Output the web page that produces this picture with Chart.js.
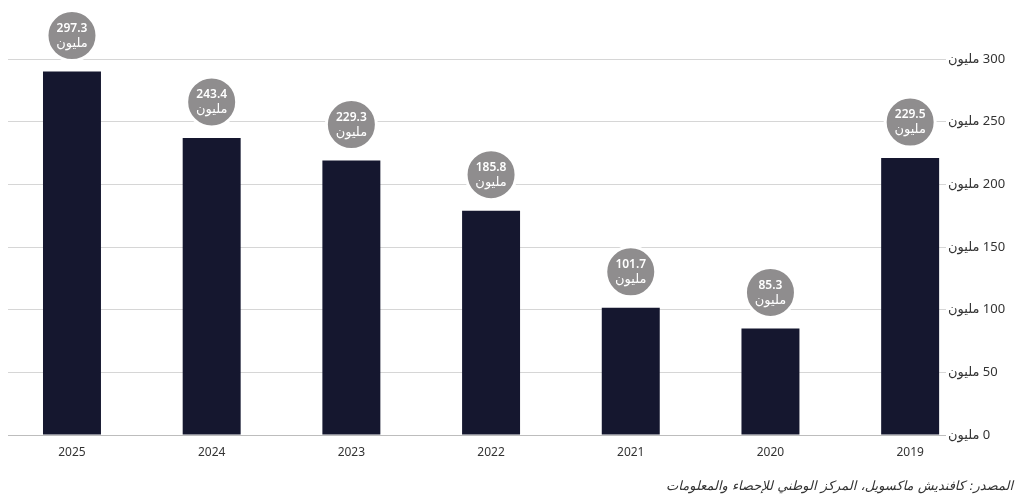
<!DOCTYPE html>
<html lang="ar">
<head>
<meta charset="utf-8">
<script src="https://cdn.jsdelivr.net/npm/chart.js@4.4.1/dist/chart.umd.min.js"></script>
<style>
  body { margin: 0; background: #fff; }
  #wrap { position: relative; width: 1024px; height: 504px; }
  #source {
    position: absolute; right: 11px; top: 478px;
    font-family: 'DejaVu Sans', 'Noto Sans', sans-serif; font-size: 13px;
    font-style: italic; color: #333; direction: rtl;
  }
</style>
</head>
<body>
<div id="wrap">
  <canvas id="chart"></canvas>
  <div id="source">المصدر: كافنديش ماكسويل، المركز الوطني للإحصاء والمعلومات</div>
</div>
<script>
// years run right-to-left in the original, so keep them in screen order
const years = ['2025', '2024', '2023', '2022', '2021', '2020', '2019'];
// bar heights as drawn in the picture (millions)
const barValues = [290, 237, 219, 179, 101.5, 85, 221];
// labels printed in the bubbles
const bubbleLabels = ['297.3', '243.4', '229.3', '185.8', '101.7', '85.3', '229.5'];
const unitWord = 'مليون';
const yTicks = [0, 50, 100, 150, 200, 250, 300];

const barColor = '#15172f';
const bubbleColor = '#8f8d8e';
const textColor = '#333333';

// draws the grey value bubbles above each bar
const bubblePlugin = {
    id: 'bubbles',
    afterDatasetsDraw(chart) {
        const ctx = chart.ctx;
        const meta = chart.getDatasetMeta(0);
        meta.data.forEach((bar, i) => {
            const cx = bar.x;
            const cy = bar.y - 36;
            ctx.save();
            ctx.beginPath();
            ctx.arc(cx, cy, 25, 0, Math.PI * 2);
            ctx.fillStyle = bubbleColor;
            ctx.fill();
            ctx.lineWidth = 3;
            ctx.strokeStyle = '#ffffff';
            ctx.stroke();
            ctx.fillStyle = '#ffffff';
            ctx.textAlign = 'center';
            ctx.textBaseline = 'middle';
            ctx.font = "600 12px 'Noto Sans', sans-serif";
            ctx.fillText(bubbleLabels[i], cx, cy - 7);
            ctx.font = "13px 'DejaVu Sans', sans-serif";
            ctx.fillText(unitWord, cx, cy + 8);
            ctx.restore();
        });
    }
};

new Chart(document.getElementById('chart'), {
    type: 'bar',
    data: {
        datasets: [{
            data: barValues.map((v, i) => ({ x: i, y: v })),
            backgroundColor: barColor,
            borderWidth: 0,
            barPercentage: 1,
            categoryPercentage: 0.415
        }]
    },
    options: {
        responsive: true,
        maintainAspectRatio: false,
        animation: false,
        layout: { padding: { left: 8, top: 59, right: 0, bottom: 0 } },
        plugins: {
            legend: { display: false },
            tooltip: { enabled: false }
        },
        scales: {
            x: {
                type: 'linear',
                offset: false,
                min: -0.458,
                max: 6.228,
                grid: { display: false, drawTicks: false, offset: false },
                border: { display: false },
                afterBuildTicks: (axis) => {
                    axis.ticks = years.map((_, i) => ({ value: i }));
                },
                afterFit: (axis) => { axis.height = 69; },
                ticks: {
                    padding: 10,
                    color: textColor,
                    font: { family: "'Noto Sans', sans-serif", size: 12 },
                    callback: (value) => years[value]
                }
            },
            y: {
                position: 'right',
                min: 0,
                max: 300,
                afterBuildTicks: (axis) => {
                    axis.ticks = yTicks.map(v => ({ value: v }));
                },
                afterFit: (axis) => { axis.width = 82; },
                border: { display: false },
                grid: {
                    color: (c) => c.tick && c.tick.value === 0 ? '#bdbdbd' : '#d6d6d6',
                    lineWidth: 1,
                    drawTicks: true,
                    tickLength: 4
                },
                ticks: {
                    padding: 2,
                    color: textColor,
                    font: { family: "'Noto Sans', 'DejaVu Sans', sans-serif", size: 13 },
                    callback: (value) => '\u200F' + value + ' ' + unitWord
                }
            }
        }
    },
    plugins: [bubblePlugin]
});
</script>
</body>
</html>
